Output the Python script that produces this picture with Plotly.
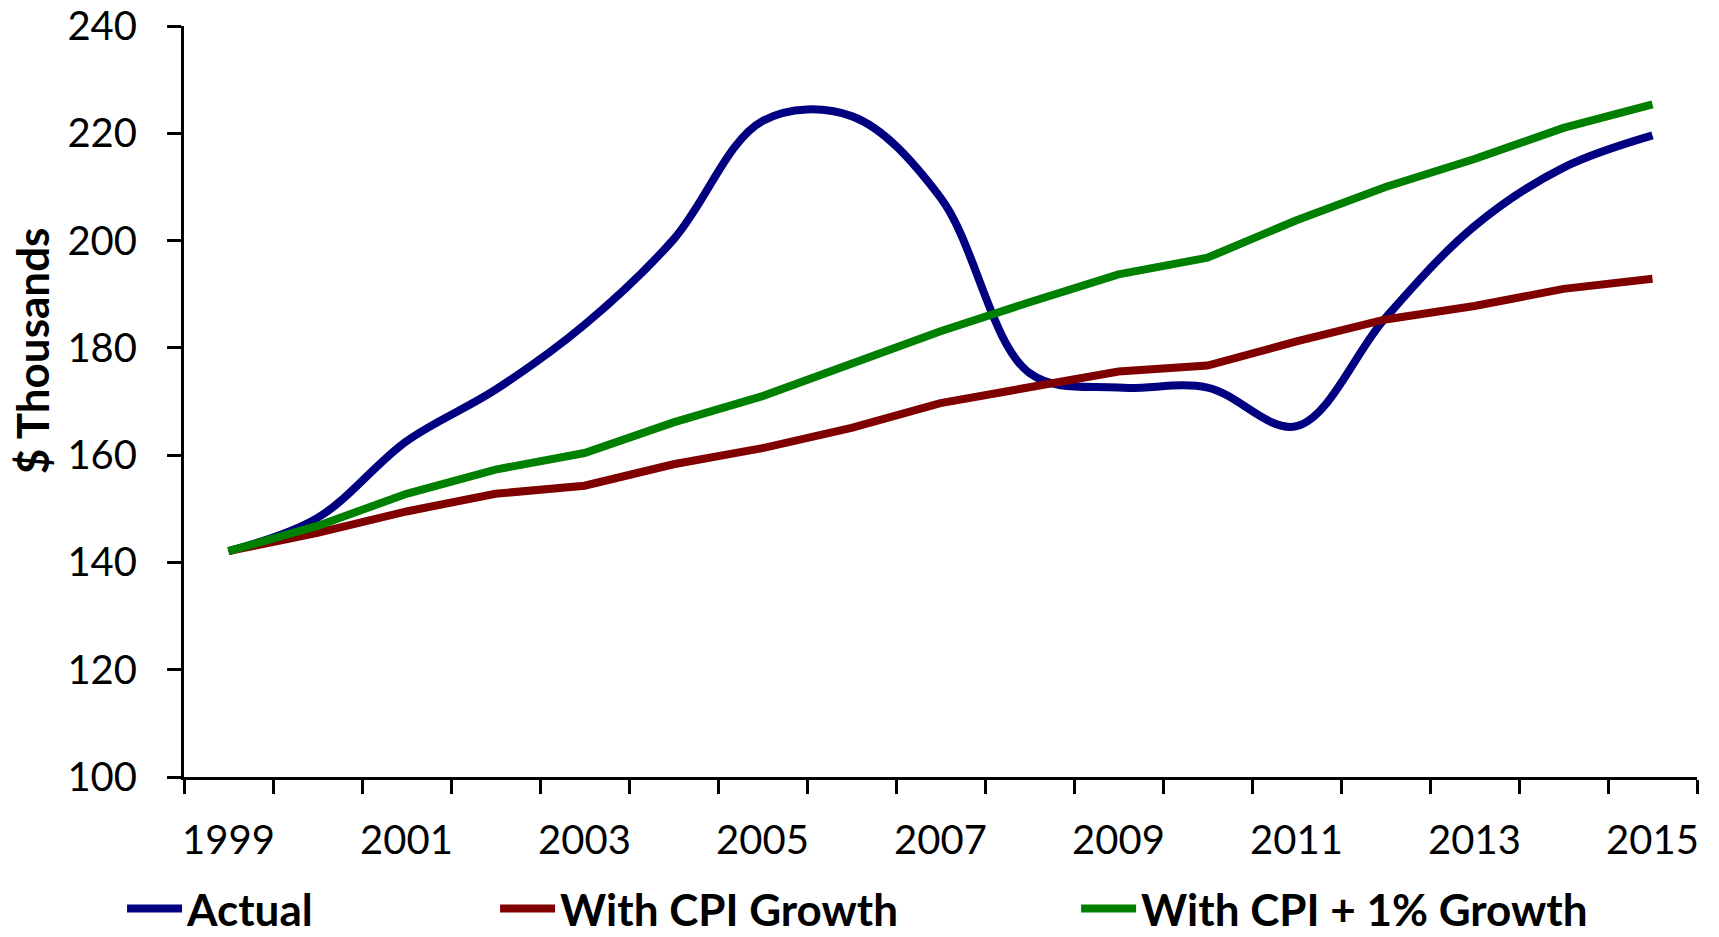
import plotly.graph_objects as go

years = [str(y) for y in range(1999, 2016)]

actual = [142.1, 148.3, 162.6, 172.2, 184.3, 200.2, 222.3, 223.2, 208.0,
          175.3, 172.6, 172.6, 165.4, 185.6, 202.7, 213.6, 219.6]
cpi_growth = [142.1, 145.5, 149.5, 152.8, 154.3, 158.3, 161.3, 165.1, 169.7,
              172.5, 175.6, 176.7, 181.2, 185.3, 187.8, 191.0, 192.9]
cpi_plus_1 = [142.1, 146.8, 152.8, 157.3, 160.4, 166.1, 171.0, 176.9, 183.1,
              188.5, 193.7, 196.8, 203.8, 210.0, 215.2, 221.0, 225.4]

y_ticks = [100, 120, 140, 160, 180, 200, 220, 240]
label_years = years[::2]

FONT = "Lato"
idx = list(range(len(years)))

fig = go.Figure()
fig.add_trace(go.Scatter(x=idx, y=actual, name="Actual", mode="lines",
                         line=dict(color="#000080", width=8, shape="spline", smoothing=1.0),
                         legend="legend", showlegend=True))
fig.add_trace(go.Scatter(x=idx, y=cpi_growth, name="With CPI Growth", mode="lines",
                         line=dict(color="#800000", width=8),
                         legend="legend2", showlegend=True))
fig.add_trace(go.Scatter(x=idx, y=cpi_plus_1, name="With CPI + 1% Growth", mode="lines",
                         line=dict(color="#008000", width=8),
                         legend="legend3", showlegend=True))

legend_common = dict(orientation="h", xref="container", yref="container",
                     yanchor="middle", y=0.03, xanchor="left",
                     font=dict(family=FONT, size=44, color="black", weight="bold"),
                     bgcolor="rgba(0,0,0,0)", itemwidth=55)

fig.update_layout(
    width=1719, height=937,
    showlegend=True,
    margin=dict(l=184, r=22, t=26, b=160, autoexpand=False),
    plot_bgcolor="white", paper_bgcolor="white",
    xaxis=dict(
        range=[-0.5, len(years) - 0.5],
        tickmode="array",
        tickvals=[idx[i] for i in range(0, len(years), 2)],
        ticktext=label_years,
        ticks="",
        tickfont=dict(family=FONT, size=40, color="black"),
        ticklabelstandoff=26,
        showline=True, linecolor="black", linewidth=3,
        showgrid=False, zeroline=False,
        minor=dict(tickmode="array",
                   tickvals=[i - 0.5 for i in range(len(years) + 1)],
                   ticks="outside", ticklen=14, tickwidth=3, tickcolor="black",
                   showgrid=False),
    ),
    yaxis=dict(
        range=[100, 240],
        tickmode="array", tickvals=y_ticks,
        ticks="outside", ticklen=14, tickwidth=3, tickcolor="black",
        tickfont=dict(family=FONT, size=40, color="black"),
        ticklabelstandoff=22,
        showline=True, linecolor="black", linewidth=3,
        showgrid=False, zeroline=False,
    ),
    legend=dict(legend_common, x=0.071),
    legend2=dict(legend_common, x=0.288),
    legend3=dict(legend_common, x=0.626),
    annotations=[dict(text="$ Thousands", xref="paper", yref="paper",
                      x=-0.1, y=0.568, xanchor="center", yanchor="middle",
                      textangle=-90, showarrow=False,
                      font=dict(family=FONT, size=44, color="black", weight="bold"))],
)

fig.write_html("out.html")
